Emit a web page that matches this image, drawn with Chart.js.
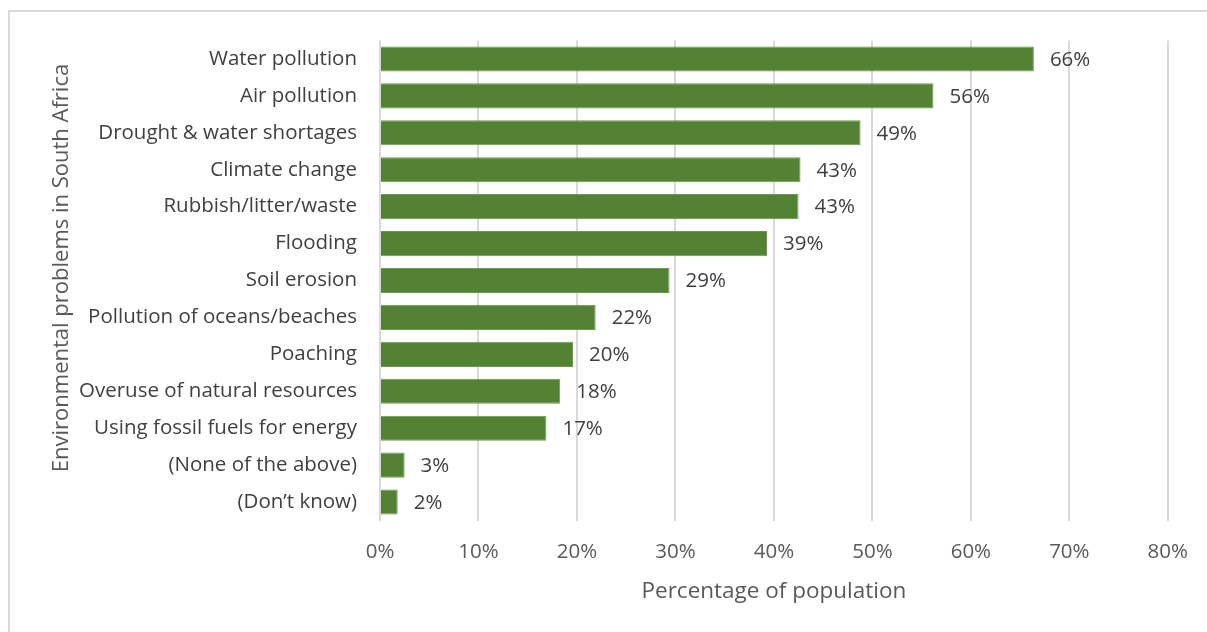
<!DOCTYPE html>
<html>
<head>
<meta charset="utf-8">
<script src="https://cdn.jsdelivr.net/npm/chart.js@4/dist/chart.umd.min.js"></script>
<style>
  html, body { margin: 0; padding: 0; background: #ffffff; overflow: hidden; }
  #frame {
    position: absolute; left: 8px; top: 10px; width: 1300px; height: 700px;
    border-top: 2px solid #d9d9d9; border-left: 2px solid #d9d9d9; box-sizing: border-box;
  }
  #wrap { position: absolute; left: 0; top: 0; width: 1207px; height: 632px; }
</style>
</head>
<body>
<div id="frame"></div>
<div id="wrap"><canvas id="chart" width="1207" height="632"></canvas></div>
<script>
const categories = [
  'Water pollution',
  'Air pollution',
  'Drought & water shortages',
  'Climate change',
  'Rubbish/litter/waste',
  'Flooding',
  'Soil erosion',
  'Pollution of oceans/beaches',
  'Poaching',
  'Overuse of natural resources',
  'Using fossil fuels for energy',
  '(None of the above)',
  '(Don\u2019t know)'
];
const shares = [66.4, 56.2, 48.8, 42.7, 42.5, 39.3, 29.4, 21.9, 19.6, 18.3, 16.9, 2.5, 1.8];
const xTicks = [0, 10, 20, 30, 40, 50, 60, 70, 80];
const yTitle = 'Environmental problems in South Africa';

const FONT = "'Open Sans', 'Noto Sans', sans-serif";

// value labels just past the end of each bar, plus the rotated category-axis title
const annotations = {
  id: 'annotations',
  afterDatasetsDraw(chart) {
    const ctx = chart.ctx;
    const meta = chart.getDatasetMeta(0);
    ctx.save();
    ctx.font = '20.5px ' + FONT;
    ctx.fillStyle = '#404040';
    ctx.textAlign = 'left';
    ctx.textBaseline = 'middle';
    meta.data.forEach((bar, i) => {
      ctx.fillText(Math.round(shares[i]) + '%', bar.x + 16, bar.y + 1);
    });
    ctx.restore();

    ctx.save();
    ctx.font = '22px ' + FONT;
    ctx.fillStyle = '#595959';
    ctx.textAlign = 'center';
    ctx.textBaseline = 'middle';
    ctx.translate(62, 268);
    ctx.rotate(-Math.PI / 2);
    ctx.fillText(yTitle, 0, 0);
    ctx.restore();
  }
};

new Chart(document.getElementById('chart'), {
  type: 'bar',
  data: {
    labels: categories,
    datasets: [{
      data: shares,
      backgroundColor: '#548235',
      borderColor: '#6a9a4a',
      borderWidth: 1,
      barPercentage: 0.68,
      categoryPercentage: 1.0
    }]
  },
  options: {
    indexAxis: 'y',
    responsive: false,
    animation: false,
    layout: { padding: { top: 40.5, right: 37, bottom: 10, left: 20 } },
    plugins: { legend: { display: false }, tooltip: { enabled: false } },
    scales: {
      x: {
        min: 0, max: 80,
        afterBuildTicks(scale) { scale.ticks = xTicks.map(v => ({ value: v })); },
        afterFit(scale) { scale.height = 632 - 10 - 520.5; },
        grid: { color: '#d9d9d9', lineWidth: 2, drawTicks: false },
        border: { display: false },
        ticks: {
          padding: 19,
          color: '#595959',
          font: { family: FONT, size: 20.5 },
          callback: v => v + '%'
        },
        title: {
          display: true,
          text: 'Percentage of population',
          color: '#595959',
          font: { family: FONT, size: 22.5 },
          padding: { top: 0, bottom: 17 }
        }
      },
      y: {
        afterFit(scale) { scale.width = 380 - 20; },
        grid: { display: false },
        border: { display: false },
        ticks: {
          padding: 15,
          color: '#404040',
          font: { family: FONT, size: 20.5 },
          autoSkip: false
        }
      }
    }
  },
  plugins: [annotations]
});
</script>
</body>
</html>
